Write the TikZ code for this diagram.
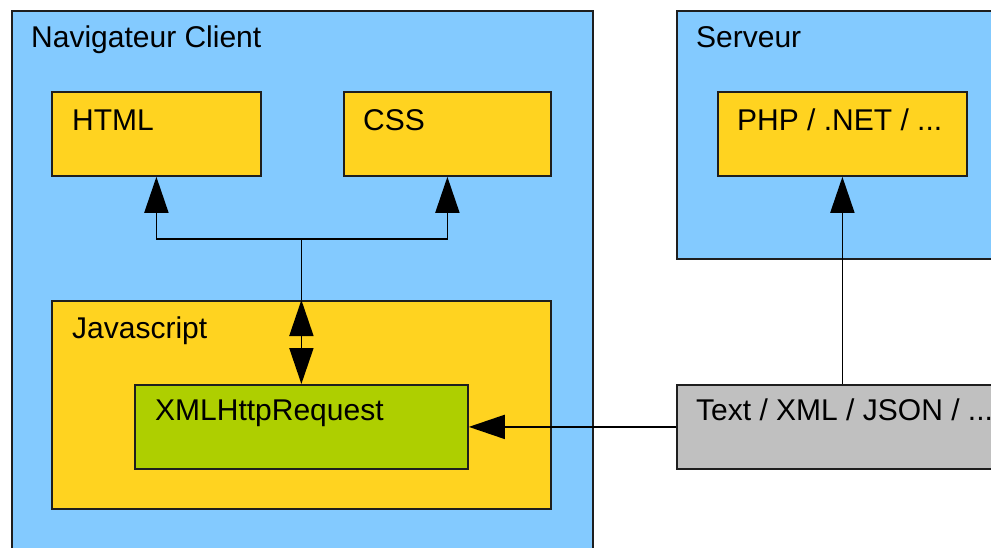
\documentclass[tikz,border=0pt]{standalone}
\usepackage{fontspec}
\setmainfont{Liberation Sans}
\usetikzlibrary{arrows.meta}
\definecolor{skyb}{RGB}{131,202,255}
\definecolor{yel}{RGB}{255,211,32}
\definecolor{grn}{RGB}{174,207,0}
\definecolor{gry}{RGB}{192,192,192}
\definecolor{edge}{RGB}{30,30,30}
\tikzset{
  box/.style={draw=edge, line width=1.8pt, anchor=north west, inner sep=0pt},
  lbl/.style={anchor=base west, inner sep=0pt, font=\fontsize{30}{35}\selectfont, text=black},
  arr/.style={line width=1.8pt, -{Triangle[length=36pt,width=24pt]}},
  darr/.style={line width=1.8pt, {Triangle[length=36pt,width=24pt]}-{Triangle[length=36pt,width=24pt]}},
}
\begin{document}
\begin{tikzpicture}[x=1pt,y=-1pt]
\useasboundingbox (0,0) rectangle (991,547);
\clip (0,0) rectangle (991,547);
% containers
\node[box, fill=skyb, minimum width=581pt, minimum height=600pt] (client) at (11,10) {};
\node[box, fill=skyb, minimum width=340pt, minimum height=248pt] (server) at (676,10) {};
\node[lbl] (clientlbl) at (31,47) {Navigateur Client};
\node[lbl] (serverlbl) at (696,47) {Serveur};
% inner boxes
\node[box, fill=yel, minimum width=209pt, minimum height=84pt] (html) at (51,91) {};
\node[box, fill=yel, minimum width=207pt, minimum height=84pt] (css) at (343,91) {};
\node[box, fill=yel, minimum width=499pt, minimum height=208pt] (js) at (51,300) {};
\node[box, fill=grn, minimum width=333pt, minimum height=84pt] (xhr) at (134,384) {};
\node[box, fill=yel, minimum width=249pt, minimum height=84pt] (php) at (717,91) {};
\node[box, fill=gry, minimum width=340pt, minimum height=84pt] (txt) at (676,384) {};
% labels
\node[lbl] (htmllbl) at (72,130) {HTML};
\node[lbl] (csslbl) at (363,130) {CSS};
\node[lbl] (jslbl) at (72,338) {Javascript};
\node[lbl] (xhrlbl) at (155,420) {XMLHttpRequest};
\node[lbl] (phplbl) at (737,130) {PHP / .NET / ...};
\node[lbl] (txtlbl) at (696,420) {Text / XML / JSON / ...};
% connectors
\coordinate (j) at (js.north |- 0,239);
\draw[arr] (j) -| (html.south);
\draw[arr] (j) -| (css.south);
\draw[line width=1.8pt] (j) -- (js.north);
\draw[darr] (js.north) -- (xhr.north);
\draw[arr] (txt.west) -- (xhr.east);
\draw[arr] (txt.north -| php.south) -- (php.south);
\end{tikzpicture}
\end{document}
